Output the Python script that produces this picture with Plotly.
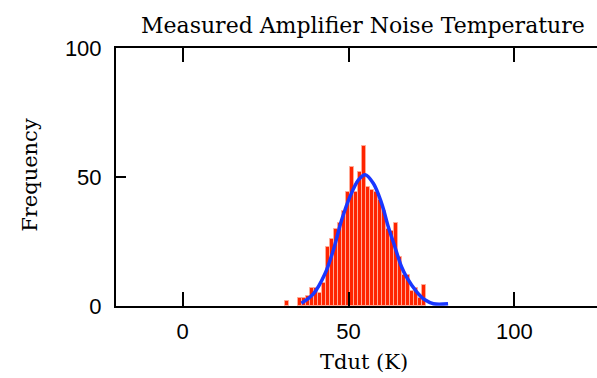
import plotly.graph_objects as go

# Histogram bins (K) and counts
bin_centers = [31.4, 35.4, 36.6, 37.8, 39.0, 40.2, 41.4, 42.6, 43.8, 45.0, 46.2,
               47.4, 48.6, 49.8, 51.0, 52.2, 53.4, 54.6, 55.8, 57.0, 58.2,
               59.4, 60.6, 61.8, 63.0, 64.2, 65.4, 66.6, 67.8, 69.0, 70.2,
               71.4, 72.6]
counts = [2, 3, 3, 4, 7, 7, 5, 9, 23, 26, 30,
          32, 37, 44, 54, 44, 52, 62, 46, 45, 44,
          41, 37, 30, 29, 32, 19, 12, 12, 6, 7,
          3, 8]
bin_width = 1.2

# Fitted curve
fit_x = [35.8, 39.4, 42.9, 45.4, 47.9, 50.4, 53.0, 55.0, 57.5, 60.0, 62.0,
         64.0, 66.0, 67.5, 70.6, 73.0, 75.6, 80.0]
fit_y = [1.1, 4.7, 12.5, 21.6, 33.2, 42.3, 48.9, 50.9, 47.5, 39.7, 30.6,
         22.8, 15.1, 11.2, 5.4, 2.4, 0.9, 0.9]

x_ticks = [0, 50, 100]
y_ticks = [0, 50, 100]

fig = go.Figure()
fig.add_trace(go.Bar(
    x=bin_centers, y=counts, width=bin_width,
    marker=dict(color="rgb(255,36,0)",
                line=dict(color="rgb(255,170,150)", width=1)),
    showlegend=False,
))
fig.add_trace(go.Scatter(
    x=fit_x, y=fit_y, mode="lines", line_shape="spline",
    line=dict(color="rgb(25,55,255)", width=3.5),
    showlegend=False,
))

serif = "DejaVu Serif"
sans = "Liberation Sans"

fig.update_layout(
    width=597, height=378,
    margin=dict(l=116, r=0, t=48, b=72),
    paper_bgcolor="white", plot_bgcolor="white",
    bargap=0,
    xaxis=dict(range=[-20.1, 124.9], tickvals=x_ticks, ticks="inside",
               ticklen=14, tickwidth=2, tickcolor="black",
               showline=True, linecolor="black", linewidth=2,
               mirror="ticks", showgrid=False, zeroline=False,
               ticklabelstandoff=5,
               tickfont=dict(family=sans, size=22, color="black")),
    yaxis=dict(range=[0, 100], tickvals=y_ticks, ticks="inside",
               ticklen=10, tickwidth=2, tickcolor="black",
               showline=True, linecolor="black", linewidth=2,
               showgrid=False, zeroline=False,
               ticklabelstandoff=8,
               tickfont=dict(family=sans, size=22, color="black")),
    annotations=[
        dict(text="Measured Amplifier Noise Temperature", xref="paper", yref="paper",
             x=0.513, y=1.089, xanchor="center", yanchor="middle", showarrow=False,
             font=dict(family=serif, size=22, color="black")),
        dict(text="Frequency", xref="paper", yref="paper",
             x=-0.179, y=0.508, xanchor="center", yanchor="middle", showarrow=False,
             textangle=-90, font=dict(family=serif, size=21, color="black")),
        dict(text="Tdut (K)", xref="paper", yref="paper",
             x=0.5156, y=-0.217, xanchor="center", yanchor="middle", showarrow=False,
             font=dict(family=serif, size=21, color="black")),
    ],
)

fig.write_html("out.html")
